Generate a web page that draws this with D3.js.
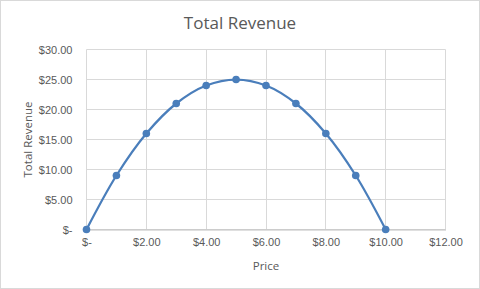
<!DOCTYPE html>
<html>
<head>
<meta charset="utf-8">
<script src="https://cdn.jsdelivr.net/npm/d3@7"></script>
<style>
  body { margin: 0; background: #fff; }
  svg { display: block; font-family: "Open Sans", "Liberation Sans", sans-serif; }
  .grid line { stroke: #d9d9d9; stroke-width: 1; }
  .axis text { fill: #595959; font-size: 11px; }
  .axis-label { fill: #595959; font-size: 11.5px; }
  .title { fill: #595959; font-size: 17px; }
</style>
</head>
<body>
<div id="chart"></div>
<script>
// data
var prices = [0, 1, 2, 3, 4, 5, 6, 7, 8, 9, 10];
var revenue = [0, 9, 16, 21, 24, 25, 24, 21, 16, 9, 0];
var xTicks = [0, 2, 4, 6, 8, 10, 12];
var yTicks = [0, 5, 10, 15, 20, 25, 30];

var width = 480, height = 289;
var margin = { top: 49.5, right: 34.5, bottom: 59.5, left: 86.5 };
var w = width - margin.left - margin.right;
var h = height - margin.top - margin.bottom;

var money = function(v) { return v === 0 ? '$-' : '$' + d3.format('.2f')(v); };

var svg = d3.select('#chart')
  .append('svg')
  .attr('width', width)
  .attr('height', height);

// outer chart border
svg.append('rect')
  .attr('x', 0.5).attr('y', 0.5)
  .attr('width', width - 1).attr('height', height - 1)
  .attr('fill', '#fff')
  .attr('stroke', '#d9d9d9');

var g = svg.append('g')
  .attr('transform', 'translate(' + margin.left + ',' + margin.top + ')');

var x = d3.scaleLinear().domain([0, 12]).range([0, w]);
var y = d3.scaleLinear().domain([0, 30]).range([h, 0]);

// gridlines
g.append('g').attr('class', 'grid')
  .selectAll('line.h').data(yTicks).enter().append('line')
  .attr('x1', 0).attr('x2', w)
  .attr('y1', function(d) { return Math.round(y(d)) ; })
  .attr('y2', function(d) { return Math.round(y(d)) ; });
g.append('g').attr('class', 'grid')
  .selectAll('line.v').data(xTicks).enter().append('line')
  .attr('y1', 0).attr('y2', h)
  .attr('x1', function(d) { return Math.round(x(d)); })
  .attr('x2', function(d) { return Math.round(x(d)); });

// x axis
var xAxis = d3.axisBottom(x).tickValues(xTicks).tickFormat(money).tickSize(0).tickPadding(9);
g.append('g')
  .attr('class', 'axis')
  .attr('transform', 'translate(0,' + h + ')')
  .call(xAxis)
  .call(function(s) { s.select('.domain').attr('stroke', '#bfbfbf'); });

// y axis
var yAxis = d3.axisLeft(y).tickValues(yTicks).tickFormat(money).tickSize(0).tickPadding(14);
g.append('g')
  .attr('class', 'axis')
  .call(yAxis)
  .call(function(s) { s.select('.domain').remove(); });

// titles
svg.append('text')
  .attr('class', 'title')
  .attr('x', width / 2).attr('y', 29)
  .attr('text-anchor', 'middle')
  .text('Total Revenue');

svg.append('text')
  .attr('class', 'axis-label')
  .attr('x', margin.left + w / 2).attr('y', 270)
  .attr('text-anchor', 'middle')
  .text('Price');

svg.append('text')
  .attr('class', 'axis-label')
  .attr('transform', 'translate(32,' + (margin.top + h / 2) + ') rotate(-90)')
  .attr('text-anchor', 'middle')
  .text('Total Revenue');

// smoothed line
var pts = prices.map(function(p, i) { return { p: p, r: revenue[i] }; });
var line = d3.line()
  .x(function(d) { return x(d.p); })
  .y(function(d) { return y(d.r); })
  .curve(d3.curveCatmullRom.alpha(0.5));
g.append('path')
  .datum(pts)
  .attr('fill', 'none')
  .attr('stroke', '#4a7ebb')
  .attr('stroke-width', 2.25)
  .attr('d', line);

// markers
g.selectAll('circle').data(pts).enter().append('circle')
  .attr('cx', function(d) { return x(d.p); })
  .attr('cy', function(d) { return y(d.r); })
  .attr('r', 3.8)
  .attr('fill', '#4a7ebb');
</script>
</body>
</html>
